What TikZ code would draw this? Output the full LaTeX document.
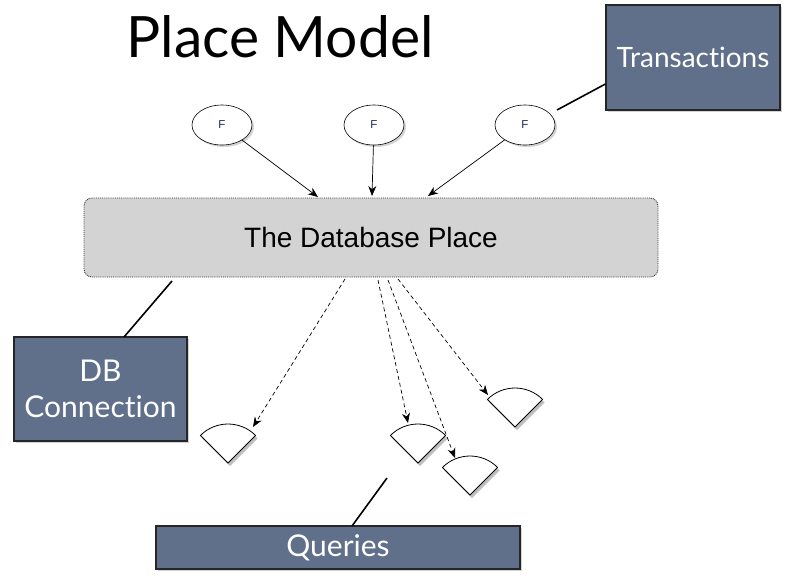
\documentclass[tikz,border=0pt]{standalone}
\usepackage{fontspec}
\setmainfont{Lato}[Ligatures={NoCommon,NoRare},Contextuals={NoAlternate}]
\newfontfamily\helv{Liberation Sans}
\usetikzlibrary{shapes.geometric,shadows,arrows.meta}
\definecolor{slate}{RGB}{96,111,138}
\definecolor{placegray}{RGB}{211,211,211}
\definecolor{fblue}{RGB}{30,40,90}
\tikzset{
  labelbox/.style={draw=black!85,line width=1.2pt,fill=slate,text=white,
    drop shadow={shadow xshift=2pt,shadow yshift=-2pt,opacity=0.35},
    inner sep=0pt,align=center},
  fnode/.style={ellipse,draw=black,line width=0.6pt,fill=white,minimum width=60pt,minimum height=40pt,inner sep=0pt,
    font=\helv\fontsize{11.5}{13}\selectfont,text=fblue,
    drop shadow={shadow xshift=2pt,shadow yshift=-2pt,opacity=0.35}},
  wedge/.style={draw=black,line width=0.8pt,fill=white,
    drop shadow={shadow xshift=2pt,shadow yshift=-3pt,opacity=0.5}},
  solidarrow/.style={-{Stealth[length=10pt,width=8pt]},line width=0.7pt},
  dasharrow/.style={-{Stealth[length=10pt,width=8pt]},line width=0.7pt,dash pattern=on 4pt off 3pt},
  plainline/.style={line width=1.6pt}
}
\begin{document}
\begin{tikzpicture}[x=1pt,y=-1pt]
\useasboundingbox (0,0) rectangle (787,582);
% title
\node[font=\fontsize{57}{62}\selectfont] (title) at (280,37) {Place Model};
% boxes
\node[labelbox,minimum width=174pt,minimum height=105pt,font=\fontsize{28}{32}\selectfont] (trans) at (693,57.5) {\raisebox{-2pt}{Transactions}};
\node[labelbox,minimum width=173pt,minimum height=104pt,font=\fontsize{30}{36}\selectfont] (dbc) at (100.5,389) {\raisebox{-3pt}{DB}\\\raisebox{-3pt}{Connection}};
\node[labelbox,minimum width=364pt,minimum height=43pt,font=\fontsize{30}{34}\selectfont] (queries) at (338,547.5) {\raisebox{-2pt}{Queries}};
% database place
\node[draw=black!80,densely dotted,line width=0.9pt,rounded corners=8pt,fill=placegray,
  minimum width=574pt,minimum height=79pt,font=\helv\fontsize{28}{32}\selectfont] (place) at (371,237.5) {The Database Place};
% F nodes
\node[fnode] (f1) at (222,125) {F};
\node[fnode] (f2) at (374,125) {F};
\node[fnode] (f3) at (525,125) {F};
% wedges
\coordinate (w1) at (228,463);
\coordinate (w2) at (418,463);
\coordinate (w3) at (470,495);
\coordinate (w4) at (515,427);
\foreach \w in {w1,w2,w3,w4}{
  \draw[wedge] (\w) -- ++(225:39) arc[start angle=225,end angle=315,radius=39] -- cycle;
}
% arrows from F
\coordinate (p1) at (318,197);
\coordinate (p2) at (372,196);
\coordinate (p3) at (428,196);
\draw[solidarrow] (f1) -- (p1);
\draw[solidarrow] (f2) -- (p2);
\draw[solidarrow] (f3) -- (p3);
% dashed arrows
\coordinate (s1) at (345,279);
\coordinate (s2) at (378,280);
\coordinate (s3) at (388,280);
\coordinate (s4) at (398,279);
\coordinate (t1) at (253,427);
\coordinate (t2) at (408,423);
\coordinate (t3) at (455,458);
\coordinate (t4) at (488,395);
\draw[dasharrow] (s1) -- (t1);
\draw[dasharrow] (s2) -- (t2);
\draw[dasharrow] (s3) -- (t3);
\draw[dasharrow] (s4) -- (t4);
% connector lines
\coordinate (c1) at (557,110);
\coordinate (c2) at (172,281);
\coordinate (c3) at (387,478);
\draw[plainline] (c1) -- (trans.west |- 0,84);
\draw[plainline] (c2) -- (124,337);
\draw[plainline] (c3) -- (352,526);
\end{tikzpicture}
\end{document}
